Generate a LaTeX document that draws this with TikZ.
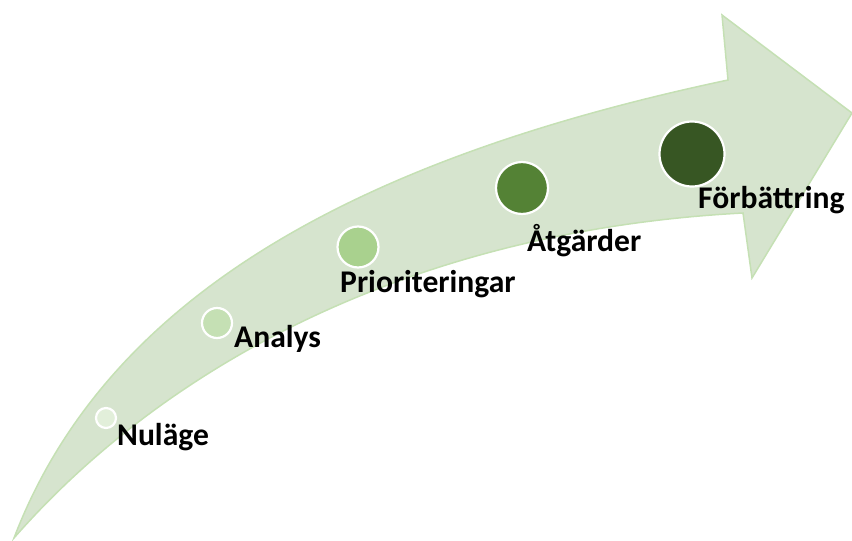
\documentclass[tikz,border=0pt]{standalone}
\usepackage{fontspec}
\setmainfont{Carlito}

\definecolor{bodyfill}{HTML}{D6E4CE}
\definecolor{bodyline}{HTML}{C5E0B4}
\definecolor{stepA}{HTML}{E2EFDA}
\definecolor{stepB}{HTML}{C5E0B4}
\definecolor{stepC}{HTML}{A9D18E}
\definecolor{stepD}{HTML}{548235}
\definecolor{stepE}{HTML}{375623}

\tikzset{
  dot/.style={circle, draw=white, line width=2.2pt, inner sep=0pt},
  steplabel/.style={anchor=base west, inner sep=0pt,
    font=\fontsize{31.6}{36}\selectfont\bfseries},
}

\begin{document}
\begin{tikzpicture}[x=1pt, y=-1pt]
    \useasboundingbox (0,0) rectangle (852,541);

    % the curved arrow
    \filldraw[fill=bodyfill, draw=bodyline, line width=1.5pt, line join=miter]
      (14,538) .. controls (105,300) and (350,160) .. (728,80)
      -- (722,15) -- (852,113) -- (752,278) -- (743,213)
      .. controls (420,230) and (170,360) .. (14,538) -- cycle;

    % dots along the arrow
    \node[dot, fill=stepA, minimum size=20pt] (nulage) at (106,418) {};
    \node[dot, fill=stepB, minimum size=30pt] (analys) at (217,323) {};
    \node[dot, fill=stepC, minimum size=41pt] (prio) at (358,247) {};
    \node[dot, fill=stepD, minimum size=52pt] (atgard) at (522,188) {};
    \node[dot, fill=stepE, minimum size=65pt] (forb) at (692,154) {};

    \node[steplabel] (nulagetext) at (117,445) {Nuläge};
    \node[steplabel] (analystext) at (234,347) {Analys};
    \node[steplabel] (priotext) at (340,292) {Prioriteringar};
    \node[steplabel] (atgardtext) at (527,251) {Åtgärder};
    \node[steplabel] (forbtext) at (698,208) {Förbättring};
  \end{tikzpicture}
\end{document}
